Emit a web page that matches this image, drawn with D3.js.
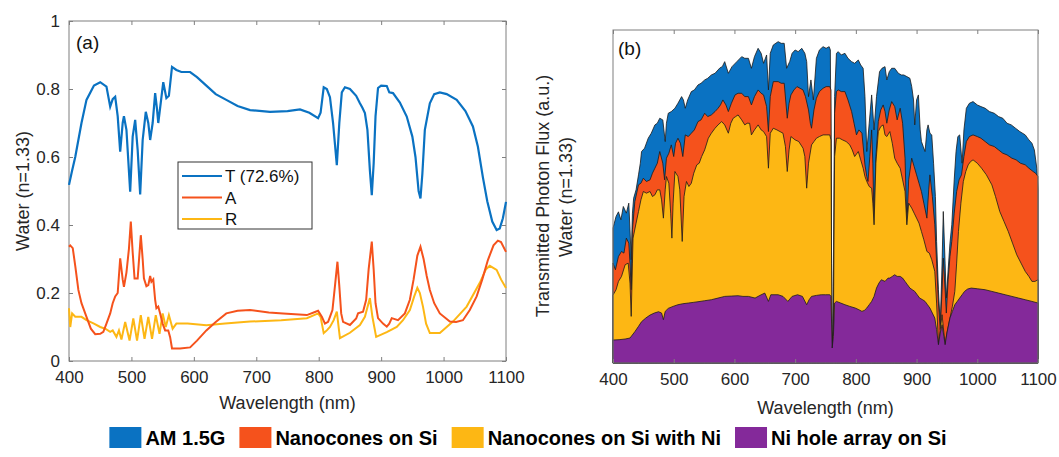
<!DOCTYPE html>
<html><head><meta charset="utf-8">
<script src="https://cdn.jsdelivr.net/npm/d3@7/dist/d3.min.js"></script>
<style>
body{margin:0;background:#fff;}
svg{display:block;font-family:"Liberation Sans",Arial,sans-serif;}
</style></head><body>
<svg id="c" width="1059" height="457"></svg>
<script>
// ---------- Panel (a) data ----------
const tWl=[400,405,410,420,428,440,450,460,466,470,474,478,482,486,488,492,498,502,506,510,514,518,523,527,530,534,538,541,543,547,551,556,560,565,572,580,594,605,620,635,652,670,690,722,750,770,785,799,803,808,813,818,823,829,833,837,842,850,860,866,870,874,878,882,885,888,891,895,900,909,913,919,930,941,950,955,960,963,966,970,978,985,994,1005,1021,1035,1047,1055,1063,1070,1078,1085,1090,1095,1100];
const tVal=[0.518,0.56,0.60,0.70,0.768,0.81,0.82,0.807,0.748,0.77,0.777,0.72,0.616,0.70,0.72,0.68,0.498,0.66,0.709,0.62,0.49,0.65,0.733,0.70,0.65,0.70,0.788,0.74,0.70,0.76,0.82,0.773,0.78,0.865,0.856,0.85,0.85,0.835,0.81,0.785,0.768,0.75,0.738,0.733,0.735,0.74,0.73,0.714,0.73,0.805,0.80,0.776,0.70,0.576,0.70,0.79,0.805,0.80,0.78,0.758,0.745,0.729,0.68,0.56,0.488,0.58,0.72,0.803,0.81,0.809,0.79,0.788,0.76,0.719,0.66,0.60,0.50,0.478,0.55,0.68,0.758,0.785,0.79,0.785,0.768,0.735,0.69,0.63,0.54,0.47,0.41,0.385,0.39,0.42,0.468];
const aWl=[400,402,406,410,415,420,428,435,442,450,455,460,466,470,474,478,482,486,488,492,496,499,502,505,510,515,518,520,524,527,530,532,535,538,540,543,546,550,554,559,562,565,578,594,605,620,635,652,670,690,720,743,781,795,799,805,810,815,818,822,826,830,833,836,839,850,860,863,871,876,880,885,888,891,895,903,909,913,917,927,938,946,952,958,963,968,973,978,985,994,1010,1020,1031,1042,1053,1062,1071,1080,1087,1092,1100];
const aVal=[0.336,0.34,0.332,0.28,0.209,0.17,0.13,0.095,0.079,0.08,0.086,0.11,0.14,0.17,0.19,0.20,0.302,0.24,0.218,0.26,0.33,0.41,0.32,0.243,0.243,0.37,0.30,0.243,0.22,0.223,0.25,0.233,0.24,0.18,0.155,0.16,0.14,0.11,0.09,0.09,0.07,0.037,0.037,0.04,0.06,0.09,0.115,0.14,0.148,0.15,0.143,0.14,0.135,0.145,0.148,0.13,0.11,0.115,0.13,0.15,0.22,0.292,0.22,0.14,0.115,0.106,0.125,0.14,0.145,0.18,0.27,0.351,0.27,0.17,0.126,0.11,0.101,0.11,0.126,0.12,0.14,0.18,0.24,0.31,0.336,0.30,0.25,0.209,0.17,0.14,0.116,0.115,0.12,0.15,0.19,0.24,0.297,0.34,0.354,0.35,0.321];
const rWl=[400,402,405,410,420,428,440,450,458,466,470,476,480,484,490,497,503,509,515,521,527,533,539,545,550,555,560,566,572,590,620,650,690,740,781,799,803,808,813,818,824,829,834,850,866,874,882,886,892,909,925,935,946,953,958,962,967,972,978,994,1015,1037,1058,1068,1074,1085,1092,1100];
const rVal=[0.155,0.10,0.14,0.13,0.13,0.12,0.11,0.10,0.095,0.086,0.09,0.071,0.09,0.063,0.115,0.06,0.125,0.06,0.135,0.065,0.13,0.065,0.135,0.08,0.14,0.10,0.135,0.095,0.11,0.11,0.105,0.11,0.116,0.12,0.126,0.14,0.13,0.082,0.09,0.10,0.12,0.145,0.067,0.083,0.106,0.13,0.185,0.13,0.071,0.085,0.10,0.12,0.15,0.19,0.215,0.20,0.16,0.11,0.082,0.082,0.116,0.16,0.23,0.27,0.28,0.268,0.24,0.215];
const aXTicks=[400,500,600,700,800,900,1000,1100];
const aYTicks=[0,0.2,0.4,0.6,0.8,1];
const aLegend=["T (72.6%)","A","R"];

// ---------- Panel (b) data ----------
const amWl=[400,405,409,413,417,422,426,428,430,432,434,438,442,445,447,452,458,463,469,473,477,482,486,488,491,496,502,507,513,516,519,523,529,534,540,545,551,556,562,568,576,580,584,590,596,604,612,617,623,628,633,639,644,648,653,656,659,664,672,677,682,686,691,695,700,705,711,716,719,722,726,730,735,740,746,751,756,758,760,761,763,765,768,771,776,782,787,793,798,804,808,812,815,818,822,826,830,834,839,843,848,851,855,859,864,870,875,879,884,889,892,895,897,900,903,906,908,911,914,917,919,922,925,928,931,933,936,939,942,944,947,949,952,955,958,962,965,968,971,975,978,982,987,993,1000,1006,1013,1020,1028,1035,1042,1049,1056,1063,1070,1079,1085,1090,1094,1098,1100];
const amVal=[0.405,0.44,0.454,0.43,0.47,0.45,0.48,0.40,0.31,0.45,0.495,0.52,0.565,0.60,0.635,0.645,0.675,0.69,0.715,0.72,0.735,0.73,0.665,0.72,0.75,0.755,0.765,0.78,0.80,0.79,0.765,0.79,0.815,0.82,0.835,0.84,0.85,0.855,0.865,0.87,0.886,0.89,0.905,0.87,0.89,0.905,0.92,0.915,0.915,0.885,0.92,0.945,0.93,0.90,0.925,0.82,0.93,0.955,0.965,0.96,0.96,0.885,0.905,0.93,0.94,0.935,0.945,0.93,0.905,0.80,0.85,0.79,0.915,0.94,0.95,0.945,0.95,0.94,0.30,0.045,0.10,0.80,0.93,0.935,0.925,0.93,0.915,0.905,0.90,0.91,0.895,0.885,0.80,0.635,0.72,0.805,0.70,0.80,0.875,0.885,0.89,0.85,0.875,0.885,0.885,0.87,0.865,0.865,0.86,0.855,0.83,0.79,0.715,0.79,0.805,0.70,0.665,0.65,0.635,0.70,0.715,0.69,0.685,0.60,0.50,0.365,0.22,0.115,0.30,0.455,0.30,0.195,0.28,0.36,0.415,0.55,0.635,0.68,0.685,0.60,0.70,0.765,0.78,0.785,0.775,0.77,0.765,0.755,0.75,0.74,0.735,0.72,0.715,0.705,0.695,0.685,0.67,0.66,0.64,0.585,0.52];
const ncWl=[400,404,409,414,418,422,426,428,430,432,436,442,446,450,455,461,465,469,473,477,482,485,488,492,496,500,503,507,511,515,519,524,529,534,540,545,551,556,562,568,573,577,581,586,590,595,601,606,612,617,623,628,633,639,644,648,653,656,659,664,672,677,682,687,690,693,698,703,708,713,717,722,725,727,731,735,740,746,751,757,759,760,761,763,765,768,771,776,782,787,793,797,801,805,810,815,818,820,823,826,828,830,833,837,841,845,848,851,855,859,864,868,873,877,881,884,887,892,896,900,904,908,912,917,920,922,926,930,933,936,939,942,944,947,949,952,955,958,962,966,970,974,978,982,987,993,1000,1006,1013,1020,1028,1035,1042,1049,1057,1064,1071,1079,1085,1092,1096,1100];
const ncVal=[0.30,0.28,0.32,0.335,0.33,0.375,0.36,0.30,0.22,0.40,0.485,0.535,0.54,0.555,0.545,0.55,0.57,0.585,0.60,0.635,0.60,0.55,0.615,0.63,0.655,0.62,0.66,0.675,0.66,0.62,0.685,0.68,0.69,0.70,0.725,0.73,0.75,0.74,0.745,0.755,0.765,0.775,0.79,0.775,0.755,0.78,0.805,0.81,0.81,0.80,0.80,0.775,0.80,0.82,0.81,0.805,0.77,0.695,0.80,0.845,0.845,0.84,0.84,0.735,0.78,0.805,0.82,0.83,0.825,0.82,0.80,0.76,0.72,0.705,0.76,0.795,0.815,0.825,0.83,0.83,0.82,0.30,0.045,0.10,0.75,0.815,0.82,0.815,0.815,0.79,0.755,0.72,0.685,0.70,0.69,0.595,0.56,0.545,0.62,0.70,0.60,0.415,0.62,0.725,0.76,0.775,0.755,0.72,0.76,0.785,0.77,0.73,0.765,0.72,0.615,0.415,0.55,0.615,0.59,0.565,0.54,0.515,0.48,0.435,0.52,0.565,0.50,0.415,0.30,0.18,0.10,0.22,0.315,0.22,0.15,0.25,0.32,0.365,0.45,0.515,0.55,0.565,0.62,0.665,0.68,0.685,0.68,0.675,0.665,0.655,0.65,0.64,0.63,0.625,0.615,0.61,0.60,0.595,0.585,0.575,0.57,0.56];
const niWl=[400,405,409,414,420,425,428,430,432,433,438,442,446,450,455,461,465,469,473,477,480,483,486,488,492,495,497,499,502,507,510,514,517,521,525,529,533,538,542,546,551,557,562,568,573,579,584,590,594,598,602,606,612,617,621,625,628,633,639,644,648,653,656,659,664,670,675,680,684,687,690,693,700,706,713,716,719,722,727,731,735,740,746,751,757,759,760,761,763,765,768,773,778,784,790,794,798,804,808,812,815,818,822,826,828,830,833,837,841,845,848,851,856,860,864,868,873,877,881,884,887,892,896,900,904,908,912,917,921,925,930,933,936,939,942,945,947,950,955,959,963,966,969,973,977,981,985,989,993,1000,1007,1015,1024,1030,1037,1044,1051,1058,1065,1072,1079,1085,1090,1095,1100];
const niVal=[0.204,0.22,0.245,0.26,0.295,0.30,0.24,0.14,0.30,0.375,0.42,0.455,0.49,0.515,0.51,0.515,0.50,0.505,0.52,0.52,0.49,0.435,0.52,0.56,0.54,0.45,0.375,0.48,0.575,0.56,0.52,0.365,0.50,0.545,0.53,0.54,0.57,0.595,0.60,0.62,0.64,0.675,0.69,0.705,0.715,0.725,0.715,0.69,0.72,0.735,0.74,0.745,0.73,0.715,0.72,0.72,0.685,0.70,0.715,0.70,0.695,0.68,0.585,0.69,0.705,0.70,0.695,0.69,0.65,0.575,0.64,0.68,0.67,0.665,0.645,0.62,0.525,0.60,0.655,0.665,0.675,0.68,0.685,0.685,0.685,0.67,0.30,0.045,0.10,0.62,0.675,0.675,0.67,0.665,0.655,0.64,0.62,0.635,0.61,0.585,0.56,0.545,0.53,0.525,0.48,0.415,0.60,0.695,0.71,0.715,0.685,0.68,0.695,0.66,0.615,0.60,0.585,0.55,0.515,0.415,0.48,0.465,0.45,0.435,0.42,0.395,0.37,0.335,0.33,0.31,0.275,0.18,0.055,0.10,0.145,0.09,0.055,0.09,0.135,0.17,0.215,0.30,0.395,0.48,0.545,0.575,0.595,0.605,0.61,0.60,0.585,0.565,0.535,0.50,0.455,0.425,0.395,0.36,0.325,0.30,0.275,0.26,0.245,0.245,0.25];
const holeWl=[400,410,420,428,436,442,447,454,461,468,475,480,483,486,491,499,507,515,524,532,540,551,562,573,584,595,606,614,623,634,642,650,656,660,672,680,688,695,704,712,719,723,727,735,743,750,757,759,760,761,763,765,768,775,782,790,799,805,810,814,818,822,826,830,834,838,842,848,853,856,860,864,868,873,877,881,885,889,893,897,901,905,910,914,918,922,926,930,933,936,939,942,945,947,950,955,959,963,967,971,975,979,984,990,1000,1013,1024,1035,1046,1057,1068,1079,1090,1100];
const holeVal=[0.069,0.07,0.072,0.075,0.094,0.11,0.124,0.135,0.144,0.15,0.154,0.15,0.13,0.155,0.164,0.17,0.175,0.178,0.18,0.182,0.184,0.187,0.19,0.195,0.20,0.201,0.202,0.20,0.20,0.195,0.203,0.21,0.185,0.205,0.205,0.20,0.185,0.20,0.205,0.20,0.175,0.19,0.20,0.203,0.205,0.205,0.205,0.20,0.12,0.045,0.08,0.18,0.185,0.18,0.175,0.17,0.165,0.16,0.155,0.158,0.165,0.175,0.185,0.20,0.225,0.24,0.25,0.245,0.255,0.255,0.26,0.265,0.26,0.26,0.255,0.245,0.235,0.225,0.22,0.215,0.205,0.195,0.19,0.185,0.175,0.165,0.15,0.135,0.10,0.055,0.09,0.115,0.08,0.055,0.09,0.135,0.155,0.175,0.185,0.195,0.205,0.215,0.222,0.225,0.223,0.22,0.215,0.21,0.205,0.20,0.195,0.19,0.185,0.18];
const bXTicks=[400,500,600,700,800,900,1000,1100];
const bLegend=["AM 1.5G","Nanocones on Si","Nanocones on Si with Ni","Ni hole array on Si"];

// ---------- styles ----------
const cBlue="#0a72c2", cOrange="#f5521c", cYellow="#fdb714", cPurple="#84299a";
const axisCol="#262626", boxCol="#7f7f7f";
const FONT="Liberation Sans, Arial, sans-serif";
const svg=d3.select("#c");

// ---------- Panel (a) ----------
const A={l:69,r:506,t:21,b:361};
const xa=d3.scaleLinear().domain([400,1100]).range([A.l,A.r]);
const ya=d3.scaleLinear().domain([0,1]).range([A.b,A.t]);
const ga=svg.append("g");
function drawBox(g,x,y,P,xt,yt,yfmt){
  g.append("rect").attr("x",P.l).attr("y",P.t).attr("width",P.r-P.l).attr("height",P.b-P.t)
   .attr("fill","none").attr("stroke",boxCol).attr("stroke-width",1);
  const bx=g.append("g").attr("transform",`translate(0,${P.b})`)
    .call(d3.axisBottom(x).tickValues(xt).tickSizeInner(-4).tickSizeOuter(0).tickPadding(10).tickFormat(d3.format("d")));
  const tx=g.append("g").attr("transform",`translate(0,${P.t})`)
    .call(d3.axisTop(x).tickValues(xt).tickSizeInner(-4).tickSizeOuter(0).tickFormat(""));
  [bx,tx].forEach(s=>{s.select(".domain").remove();s.selectAll("line").attr("stroke",boxCol);});
  bx.selectAll("text").attr("font-size",17).attr("fill",axisCol).attr("font-family",FONT);
  if(yt){
    const ly=g.append("g").attr("transform",`translate(${P.l},0)`)
      .call(d3.axisLeft(y).tickValues(yt).tickSizeInner(-4).tickSizeOuter(0).tickPadding(9).tickFormat(yfmt));
    const ry=g.append("g").attr("transform",`translate(${P.r},0)`)
      .call(d3.axisRight(y).tickValues(yt).tickSizeInner(-4).tickSizeOuter(0).tickFormat(""));
    [ly,ry].forEach(s=>{s.select(".domain").remove();s.selectAll("line").attr("stroke",boxCol);});
    ly.selectAll("text").attr("font-size",17).attr("fill",axisCol).attr("font-family",FONT);
  }
}
drawBox(ga,xa,ya,A,aXTicks,aYTicks,d=>d===0?"0":d===1?"1":String(d));
const line=(x,y)=>d3.line().x(d=>x(d[0])).y(d=>y(d[1]));
const zip=(a,b)=>a.map((v,i)=>[v,b[i]]);
const la=line(xa,ya);
ga.append("path").attr("d",la(zip(rWl,rVal))).attr("fill","none").attr("stroke",cYellow).attr("stroke-width",2);
ga.append("path").attr("d",la(zip(aWl,aVal))).attr("fill","none").attr("stroke",cOrange).attr("stroke-width",2);
ga.append("path").attr("d",la(zip(tWl,tVal))).attr("fill","none").attr("stroke",cBlue).attr("stroke-width",2.2);
ga.append("text").attr("x",76).attr("y",49).attr("font-size",19).attr("fill","#111").text("(a)");
ga.append("text").attr("x",(A.l+A.r)/2).attr("y",409).attr("text-anchor","middle").attr("font-size",18).attr("fill",axisCol).text("Wavelength (nm)");
ga.append("text").attr("transform",`translate(29,${(A.t+A.b)/2}) rotate(-90)`).attr("text-anchor","middle").attr("font-size",18).attr("fill",axisCol).text("Water (n=1.33)");
// legend a
const lg=ga.append("g");
lg.append("rect").attr("x",178).attr("y",162).attr("width",134).attr("height",67).attr("fill","#fff").attr("stroke","#333").attr("stroke-width",1);
const lcol=[cBlue,cOrange,cYellow];
aLegend.forEach((t,i)=>{
  const yy=176+i*21.5;
  lg.append("line").attr("x1",182).attr("x2",222).attr("y1",yy).attr("y2",yy).attr("stroke",lcol[i]).attr("stroke-width",2);
  lg.append("text").attr("x",225).attr("y",yy+6).attr("font-size",17).attr("fill","#111").text(t);
});

// ---------- Panel (b) ----------
const B={l:613,r:1038,t:30,b:363};
const xb=d3.scaleLinear().domain([400,1100]).range([B.l,B.r]);
const yb=d3.scaleLinear().domain([0,1]).range([B.b,B.t]);
const gb=svg.append("g");
const area=d3.area().x(d=>xb(d[0])).y0(yb(0)).y1(d=>yb(d[1]));
[[amWl,amVal,cBlue],[ncWl,ncVal,cOrange],[niWl,niVal,cYellow],[holeWl,holeVal,cPurple]].forEach(([w,v,c])=>{
  gb.append("path").attr("d",area(zip(w,v))).attr("fill",c).attr("stroke","#1a1a1a").attr("stroke-width",0.8).attr("stroke-linejoin","round");
});
drawBox(gb,xb,yb,B,bXTicks,null,null);
gb.append("text").attr("x",618).attr("y",55).attr("font-size",19).attr("fill","#111").text("(b)");
gb.append("text").attr("x",(B.l+B.r)/2).attr("y",414).attr("text-anchor","middle").attr("font-size",18).attr("fill",axisCol).text("Wavelength (nm)");
gb.append("text").attr("transform",`translate(549,196) rotate(-90)`).attr("text-anchor","middle").attr("font-size",18).attr("fill",axisCol).text("Transmitted Photon Flux (a.u.)");
gb.append("text").attr("transform",`translate(572,197) rotate(-90)`).attr("text-anchor","middle").attr("font-size",18).attr("fill",axisCol).text("Water (n=1.33)");

// ---------- bottom legend ----------
const bl=svg.append("g");
const bcol=[cBlue,cOrange,cYellow,cPurple];
const sw=32, sh=21, g1=4, g2=14;
const texts=bLegend.map(t=>bl.append("text").attr("font-size",20).attr("font-weight","bold").attr("fill","#000").attr("y",445).text(t));
const widths=texts.map(t=>t.node().getComputedTextLength());
let total=d3.sum(widths)+bLegend.length*(sw+g1)+(bLegend.length-1)*g2;
let x0=528-total/2;
bLegend.forEach((t,i)=>{
  bl.append("rect").attr("x",x0).attr("y",427).attr("width",sw).attr("height",sh).attr("fill",bcol[i]);
  texts[i].attr("x",x0+sw+g1);
  x0+=sw+g1+widths[i]+g2;
});
</script></body></html>
